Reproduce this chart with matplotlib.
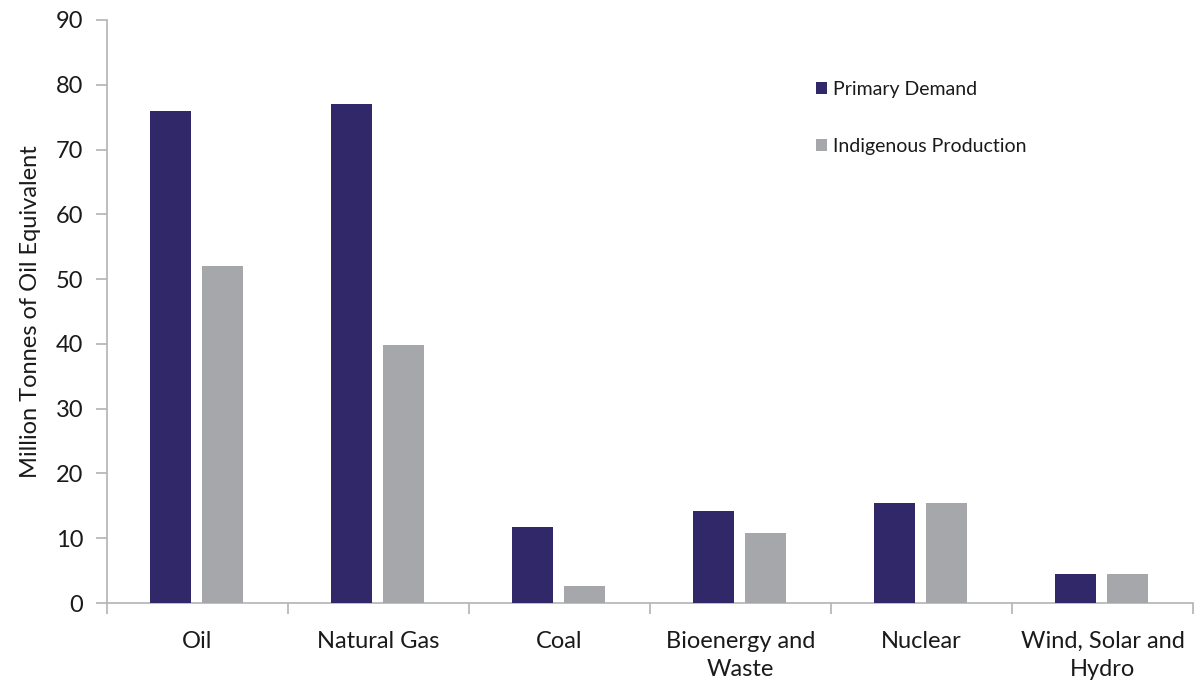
import matplotlib
matplotlib.use("Agg")
import matplotlib.pyplot as plt
import numpy as np
from matplotlib import font_manager

categories = ["Oil", "Natural Gas", "Coal", "Bioenergy and\nWaste", "Nuclear", "Wind, Solar and\nHydro"]
primary_demand = [75.9, 77.1, 11.7, 14.2, 15.4, 4.5]
indigenous_production = [52.0, 39.8, 2.6, 10.8, 15.4, 4.5]
y_ticks = [0, 10, 20, 30, 40, 50, 60, 70, 80, 90]

names = {f.name for f in font_manager.fontManager.ttflist}
base_font = "Lato" if "Lato" in names else "DejaVu Sans"
plt.rcParams["font.family"] = [base_font, "DejaVu Sans"]

dark = "#312869"
grey = "#a6a7ab"
axis_col = "#b3b3b3"

fig = plt.figure(figsize=(12, 6.84), dpi=100)
ax = fig.add_axes([0.0892, 0.1184, 0.9050, 0.8524])

x = np.arange(len(categories))
w = 0.227
ax.bar(x - 0.149, primary_demand, width=w, color=dark, label="Primary Demand", zorder=3)
ax.bar(x + 0.139, indigenous_production, width=w, color=grey, label="Indigenous Production", zorder=3)

ax.set_xlim(-0.5, len(categories) - 0.5)
ax.set_ylim(0, 90)
ax.set_yticks(y_ticks)
ax.tick_params(axis="y", labelsize=17, length=8, color=axis_col, width=1.2, pad=9, labelcolor="#1a1a1a")

ax.set_xticks(x)
ax.set_xticklabels(categories, fontsize=17, color="#1a1a1a", linespacing=1.45)
ax.tick_params(axis="x", which="major", length=0, pad=20)
ax.set_xticks(np.arange(-0.5, len(categories) + 0.5, 1.0), minor=True)
ax.tick_params(axis="x", which="minor", length=8, color=axis_col, width=1.2)

for s in ["top", "right"]:
    ax.spines[s].set_visible(False)
for s in ["left", "bottom"]:
    ax.spines[s].set_color(axis_col)
    ax.spines[s].set_linewidth(1.2)

ax.set_ylabel("Million Tonnes of Oil Equivalent", fontsize=17, color="#1a1a1a", labelpad=11)

leg = ax.legend(loc="upper left", bbox_to_anchor=(0.637, 0.925), frameon=False,
                fontsize=14, handlelength=0.55, handleheight=0.55, handletextpad=0.3,
                labelspacing=2.05)
for t in leg.get_texts():
    t.set_color("#1a1a1a")

fig.savefig("out.png", dpi=100)
